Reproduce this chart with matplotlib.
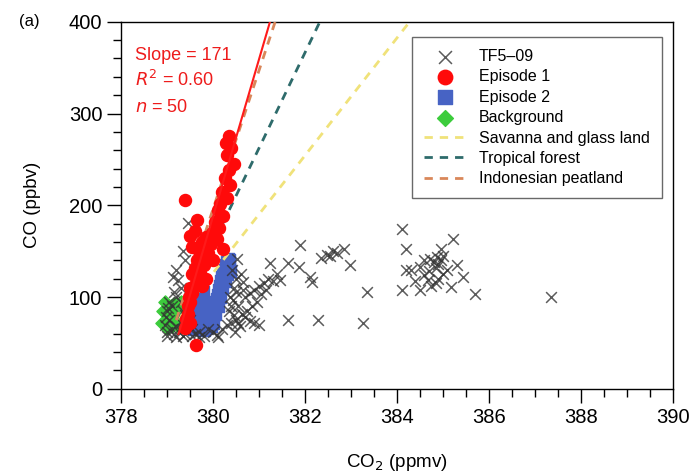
import matplotlib.pyplot as plt
import numpy as np
from matplotlib.ticker import MultipleLocator

plt.rcParams['font.family'] = ['Liberation Sans', 'DejaVu Sans']

# TF5-09 observations (CO2 ppmv, CO ppbv)
tf_x = [378.95, 379.0, 379.05, 379.1, 379.15, 379.2, 379.25, 379.3, 379.35, 379.4, 379.45,
        379.0, 379.05, 379.1, 379.2, 379.3, 379.35, 379.4, 379.5, 379.55, 379.6, 379.13,
        379.24, 379.2, 379.46, 379.3, 379.15, 379.4, 379.35, 378.98, 379.02,
        379.7, 379.8, 379.9, 380.0, 380.09, 380.2, 380.3, 380.4, 380.5, 380.59, 380.45,
        380.55, 380.44, 380.5, 380.66, 380.53, 380.6, 380.35, 380.48, 380.62, 380.7, 380.8,
        380.9, 381.0, 380.75, 380.85,
        379.0, 379.2, 379.35, 379.55, 379.7, 380.1, 380.4, 380.45, 380.5, 380.38, 380.42,
        380.55,
        380.7, 380.8, 380.9, 381.0, 381.05, 381.1, 381.2, 381.3, 381.4, 381.46, 380.95,
        381.15, 380.66, 381.25, 381.64, 381.86, 381.9, 382.12, 382.16, 382.34, 382.49,
        382.62, 382.84, 382.99, 383.36, 381.64, 382.29, 383.27, 382.55, 382.7,
        384.12, 384.19, 384.19, 384.12, 385.23, 384.73, 384.88, 384.95, 384.51, 384.3,
        384.67, 385.1, 385.43, 384.51, 385.17, 385.71, 387.35, 384.8, 384.9, 384.7, 384.6,
        385.0, 384.85, 384.75, 384.95, 385.0, 384.85, 384.6, 384.4, 385.3, 384.9]
tf_y = [70, 62, 75, 65, 60, 68, 62, 72, 65, 60, 70,
        85, 95, 90, 100, 95, 85, 80, 75, 65, 60, 122,
        119, 130, 181, 110, 105, 140, 150, 78, 88,
        62, 58, 65, 62, 59, 65, 70, 72, 75, 68, 80,
        90, 97, 105, 116, 141, 125, 85, 62, 82, 78, 74,
        72, 70, 85, 90,
        58, 56, 58, 58, 56, 56, 90, 110, 120, 100, 130,
        72,
        100, 104, 108, 112, 103, 115, 120, 118, 125, 119, 95,
        108, 108, 137, 137, 133, 157, 122, 116, 143, 146,
        150, 152, 135, 106, 75, 75, 72, 145, 148,
        174, 152, 130, 108, 163, 141, 144, 152, 133, 130,
        119, 130, 122, 108, 111, 103, 100, 138, 136, 128, 124,
        125, 115, 112, 140, 145, 132, 140, 118, 135, 120]

# Episode 1
ep1_x = [379.39, 379.63, 380.35, 380.28, 380.4, 380.3, 380.45, 380.35, 380.25, 380.38,
         380.2, 380.3, 380.16, 380.1, 380.22, 380.05, 380.12, 379.98, 380.08, 380.22,
         379.95, 379.9, 380.0, 379.66, 379.5, 379.6, 379.55, 379.7, 379.78, 379.65,
         379.72, 379.6, 379.8, 379.85, 379.75, 379.68, 379.55, 379.5, 379.62, 379.7,
         379.5, 379.45, 379.45, 379.5, 379.42, 379.38, 379.48, 379.55, 379.75, 379.85]
ep1_y = [206, 48, 275, 268, 262, 255, 245, 238, 230, 222,
         215, 208, 201, 195, 188, 182, 175, 170, 163, 152,
         158, 148, 140, 184, 166, 172, 155, 150, 145, 140,
         126, 132, 135, 120, 112, 118, 125, 110, 115, 122,
         95, 90, 82, 72, 76, 66, 100, 104, 160, 165]

# Episode 2
ep2_x = [379.65, 379.7, 379.65, 379.72, 379.68, 379.75, 379.7, 379.78, 379.75, 379.8,
         379.62, 379.85, 379.8, 379.9, 379.95, 380.0, 380.02, 380.05, 380.08, 380.1,
         380.12, 380.15, 380.18, 380.2, 380.22, 380.25, 380.28, 380.3, 380.33, 380.35,
         380.3, 380.25, 380.2, 380.15, 380.1, 380.05, 380.0, 379.95, 379.9, 379.88, 380.35,
         379.58, 379.6, 379.58, 379.62, 379.6, 379.65, 379.62, 379.8, 379.85, 380.38]
ep2_y = [70, 75, 80, 85, 90, 95, 100, 105, 110, 80,
         75, 72, 90, 70, 75, 80, 88, 92, 98, 102,
         108, 112, 118, 122, 126, 130, 135, 138, 141, 132,
         125, 118, 110, 100, 90, 82, 72, 68, 85, 95, 140,
         65, 72, 80, 88, 95, 102, 108, 64, 66, 128]

# Background
bg_x = [379.05, 379.1, 379.15, 379.2, 379.25, 379.1, 379.15, 379.2, 379.3, 379.05,
        379.12, 379.22, 379.28, 379.18, 379.08, 378.9, 378.92, 378.95, 379.35, 379.4,
        379.38, 379.0, 379.3]
bg_y = [80, 85, 72, 88, 78, 68, 92, 82, 75, 74, 79, 70, 84, 76, 90, 72, 85, 95, 68, 80,
        90, 66, 95]

# emission ratio lines from background point
bg_point = (379.2, 75)
slopes = {'Savanna and glass land': 64, 'Tropical forest': 104, 'Indonesian peatland': 151}
line_colors = {'Savanna and glass land': '#f0e27a', 'Tropical forest': '#2e6b6b',
               'Indonesian peatland': '#d9875a'}

# regression for episode 1
fit_slope = 171
fit_x = [379.25, 381.4]
fit_y0 = 400 - fit_slope * 381.24

fig = plt.figure(figsize=(6.92, 4.73), dpi=100)
ax = fig.add_axes([0.175, 0.178, 0.797, 0.776])

ax.scatter(ep2_x, ep2_y, marker='s', s=65, color='#4763c4', label='Episode 2', zorder=2)
ax.scatter(bg_x, bg_y, marker='D', s=45, color='#3ccc3c', label='Background', zorder=2)
ax.scatter(tf_x, tf_y, marker='x', s=60, color='#333333', linewidths=1.1, alpha=0.8,
           label='TF5\u201309', zorder=3)

for name, k in slopes.items():
    xs = np.array([bg_point[0], 390])
    ax.plot(xs, bg_point[1] + k * (xs - bg_point[0]), ls=(0, (3, 2.5)), lw=2,
            color=line_colors[name], label=name, zorder=3.5)

ax.scatter(ep1_x, ep1_y, marker='o', s=75, color='#ff0a0a', label='Episode 1', zorder=4)

fx = np.array(fit_x)
ax.plot(fx, fit_y0 + fit_slope * fx, color='#ff1a1a', lw=1.5, zorder=6)

ax.set_xlim(378, 390)
ax.set_ylim(0, 400)
ax.xaxis.set_major_locator(MultipleLocator(2))
ax.xaxis.set_minor_locator(MultipleLocator(0.5))
ax.yaxis.set_major_locator(MultipleLocator(100))
ax.yaxis.set_minor_locator(MultipleLocator(20))
ax.tick_params(which='major', direction='out', length=10, width=1, labelsize=14.5)
ax.tick_params(which='minor', direction='out', length=6, width=1)
for s in ax.spines.values():
    s.set_linewidth(1)

ax.set_xlabel('CO$_2$ (ppmv)', fontsize=13.5, labelpad=18)
ax.set_ylabel('CO (ppbv)', fontsize=13.5, labelpad=20)

ax.text(0.025, 0.895, 'Slope = 171', color='#ee1c1c', fontsize=13, transform=ax.transAxes)
ax.text(0.025, 0.825, '$R^2$ = 0.60', color='#ee1c1c', fontsize=13, transform=ax.transAxes)
ax.text(0.025, 0.755, '$n$ = 50', color='#ee1c1c', fontsize=13, transform=ax.transAxes)
fig.text(0.028, 0.945, '(a)', fontsize=12)

order = ['TF5\u201309', 'Episode 1', 'Episode 2', 'Background',
         'Savanna and glass land', 'Tropical forest', 'Indonesian peatland']
handles, labels = ax.get_legend_handles_labels()
hmap = dict(zip(labels, handles))
leg = ax.legend([hmap[l] for l in order], order, loc='upper right',
                bbox_to_anchor=(0.98, 0.959), borderaxespad=0, fontsize=11.5,
                frameon=True, fancybox=False, edgecolor='#444444', handlelength=2.6,
                labelspacing=0.34, borderpad=0.75, markerscale=1.2)
leg.get_frame().set_linewidth(1)

fig.savefig('out.png', dpi=100)
